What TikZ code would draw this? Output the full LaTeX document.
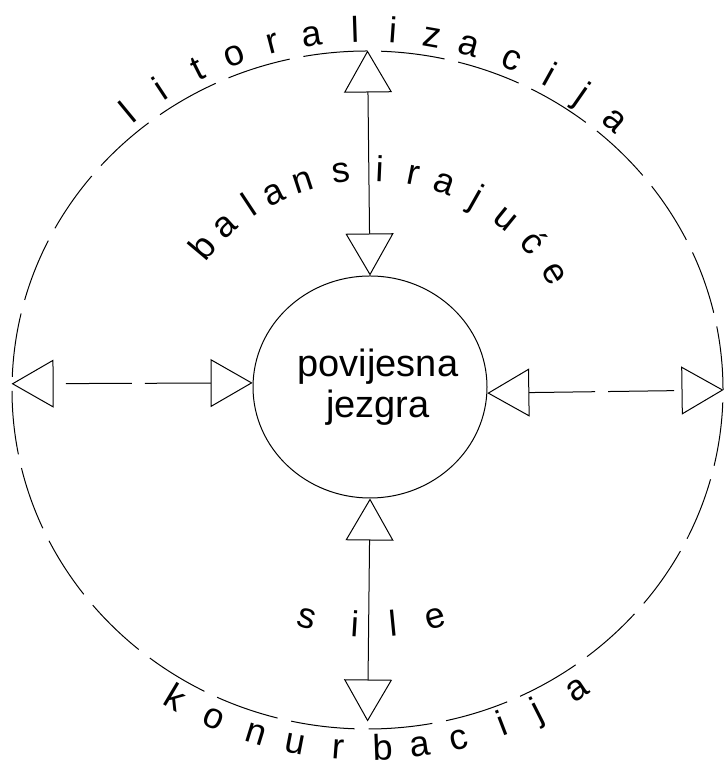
\documentclass[tikz,border=0pt]{standalone}
\usepackage{fontspec}
\setmainfont{Liberation Sans}
\usetikzlibrary{arrows.meta,shapes.geometric}

\tikzset{
  ring/.style={draw, ellipse, line width=1pt, dash pattern=on 64pt off 14pt,
    minimum width=711pt, minimum height=678pt, inner sep=0pt},
  core/.style={draw, ellipse, line width=1pt,
    minimum width=234pt, minimum height=222pt, inner sep=0pt},
  coretext/.style={align=center, inner sep=0pt, font=\fontsize{38}{41}\selectfont},
  force/.style={line width=1pt,
    {Triangle[open,length=42pt,width=48pt]}-{Triangle[open,length=42pt,width=48pt]}},
  letter/.style={anchor=base, inner sep=0pt, font=\fontsize{36}{40}\selectfont},
}

\begin{document}
\begin{tikzpicture}[x=1pt,y=1pt]
\useasboundingbox (0,0) rectangle (724,767);

\node[ring] (ring) at (367.5,377) {};
\node[core] (core) at (370,380) {};
\node[coretext] (label) at (378,380) {povijesna\\jezgra};

\draw[force] (core.north) -- (ring.north);
\draw[force,shorten >=8pt] (core.south) -- (ring.south);
\draw[force,dash pattern=on 66pt off 13pt] (core.178) -- (ring.179);
\draw[force,dash pattern=on 66pt off 13pt] (core.-3) -- (ring.-0.4);

% outer ring, top
\foreach \ch/\a [count=\n] in {l/129.5,i/123.4,t/116.8,o/110.9,r/104.6,a/98.6,l/91.9,
    i/86.0,z/80.0,a/74.3,c/67.4,i/61.0,j/55.2,a/48.7}
  \node[letter,rotate=\a-90] (lit\n) at ([shift={(\a:364.5 and 348)}]ring.center) {\ch};

% outer ring, bottom
\foreach \ch/\a [count=\n] in {k/239.2,o/245.9,n/252.8,u/259.0,r/265.5,b/272.3,a/278.0,
    c/284.0,i/291.0,j/296.8,a/303.8}
  \node[letter,rotate=\a+90] (kon\n) at ([shift={(\a:387 and 370)}]ring.center) {\ch};

% inner arc, top
\foreach \ch/\a [count=\n] in {b/140,a/132,l/123.5,a/116.5,n/108,s/97.6,i/87.4,r/78.5,
    a/70,j/60.5,u/51,ć/41.5,e/31.5}
  \node[letter,rotate=\a-90] (bal\n) at ([shift={(\a:206)}]core.center) {\ch};

% inner arc, bottom
\foreach \ch/\a [count=\n] in {s/254.8,i/266.4,l/275.6,e/285.9}
  \node[letter,rotate=\a+90] (sil\n) at ([shift={(\a:250)}]core.center) {\ch};
\end{tikzpicture}
\end{document}
